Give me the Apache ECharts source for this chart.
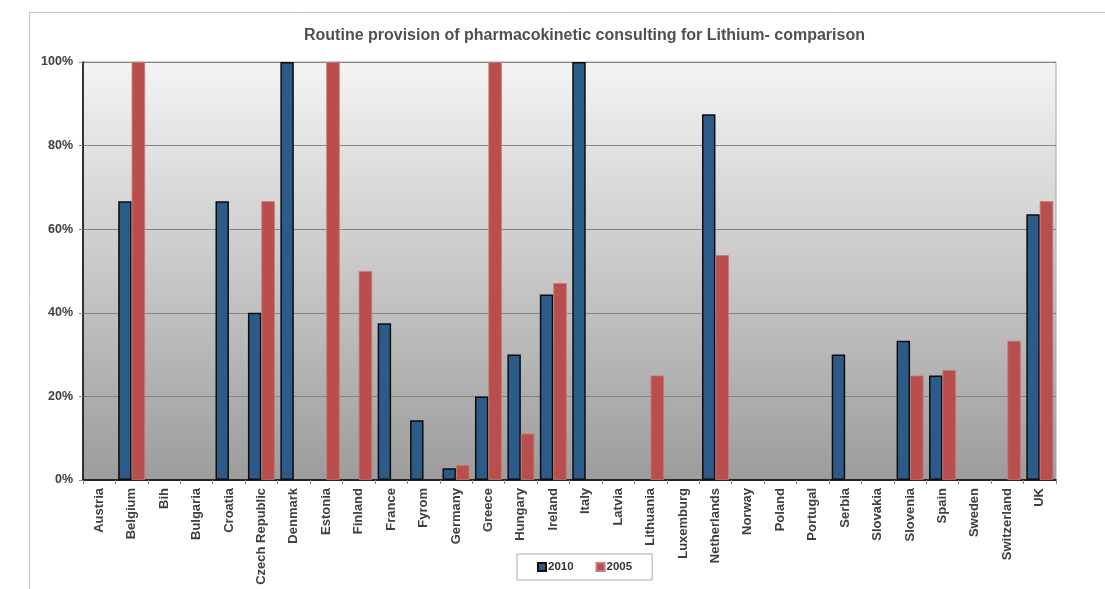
<!DOCTYPE html>
<html>
<head>
<meta charset="utf-8">
<script src="https://cdn.jsdelivr.net/npm/echarts@6/dist/echarts.min.js"></script>
<style>html,body{margin:0;padding:0;background:#fff;}#chart{width:1105px;height:589px;}</style>
</head>
<body>
<div id="chart"></div>
<script>
const categories = ["Austria","Belgium","Bih","Bulgaria","Croatia","Czech Republic","Denmark","Estonia","Finland","France","Fyrom","Germany","Greece","Hungary","Ireland","Italy","Latvia","Lithuania","Luxemburg","Netherlands","Norway","Poland","Portugal","Serbia","Slovakia","Slovenia","Spain","Sweden","Switzerland","UK"];
const values2010 = [null,66.7,null,null,66.7,40,100,null,null,37.5,14.3,2.8,20,30,44.4,100,null,null,null,87.5,null,null,null,30,null,33.3,25,null,null,63.6];
const values2005 = [null,100,null,null,null,66.7,null,100,50,null,null,3.6,100,11.1,47.1,null,null,25,null,53.8,null,null,null,null,null,25,26.3,null,33.3,66.7];
const yTicks = [0,20,40,60,80,100];
const titleText = "Routine provision of pharmacokinetic consulting for Lithium- comparison";

const chart = echarts.init(document.getElementById('chart'), null, {renderer:'canvas'});
const font = "'Liberation Sans', Arial, sans-serif";
chart.setOption({
  animation: false,
  backgroundColor: '#fff',
  title: {
    text: titleText, left: 299, top: 23,
    textStyle: {fontFamily: font, fontSize: 16, fontWeight: 'bold', color: '#505050'}
  },
  graphic: [{
    type: 'rect', z: -10, silent: true,
    shape: {x: 29.5, y: 12.5, width: 1100, height: 600},
    style: {fill: 'none', stroke: '#c4c4c4', lineWidth: 1}
  }],
  legend: {
    left: 517, top: 554, width: 120,
    padding: [7, 20, 7, 20], itemGap: 22,
    borderColor: '#aaa', borderWidth: 1,
    itemWidth: 8, itemHeight: 8, icon: 'rect',
    textStyle: {fontFamily: font, fontSize: 11.5, fontWeight: 'bold', color: '#333', padding: [0,0,0,-3]}
  },
  grid: {
    left: 83, right: 49, top: 62, bottom: 109,
    show: true, borderColor: '#a8a8a8', borderWidth: 1,
    backgroundColor: new echarts.graphic.LinearGradient(0,0,0,1,[{offset:0,color:'#F3F4F3'},{offset:1,color:'#9C9C9C'}])
  },
  xAxis: {
    type: 'category', data: categories,
    axisLine: {lineStyle: {color: '#000', width: 1.5}},
    axisTick: {show: true, alignWithLabel: false, length: 4, lineStyle: {color: '#888'}},
    axisLabel: {rotate: 90, interval: 0, margin: 8, fontFamily: font, fontSize: 13, fontWeight: 'bold', color: '#404040'}
  },
  yAxis: {
    type: 'value', min: yTicks[0], max: yTicks[yTicks.length-1], interval: 20,
    axisLine: {show: true, lineStyle: {color: '#000', width: 1.5}},
    axisTick: {show: true, length: 4, lineStyle: {color: '#888'}},
    axisLabel: {formatter: '{value}%', margin: 10, fontFamily: font, fontSize: 12.5, fontWeight: 'bold', color: '#404040'},
    splitLine: {lineStyle: {color: '#858585', width: 1}}
  },
  series: [
    {
      name: '2010', type: 'bar', data: values2010,
      barGap: '0%', barCategoryGap: '17%',
      itemStyle: {color: '#2C5B8A', borderColor: '#0d0d0d', borderWidth: 1.5}
    },
    {
      name: '2005', type: 'bar', data: values2005,
      barGap: '0%', barCategoryGap: '17%',
      itemStyle: {color: '#B94F4D', borderColor: '#c97a78', borderWidth: 0.8}
    }
  ]
});
</script>
</body>
</html>
